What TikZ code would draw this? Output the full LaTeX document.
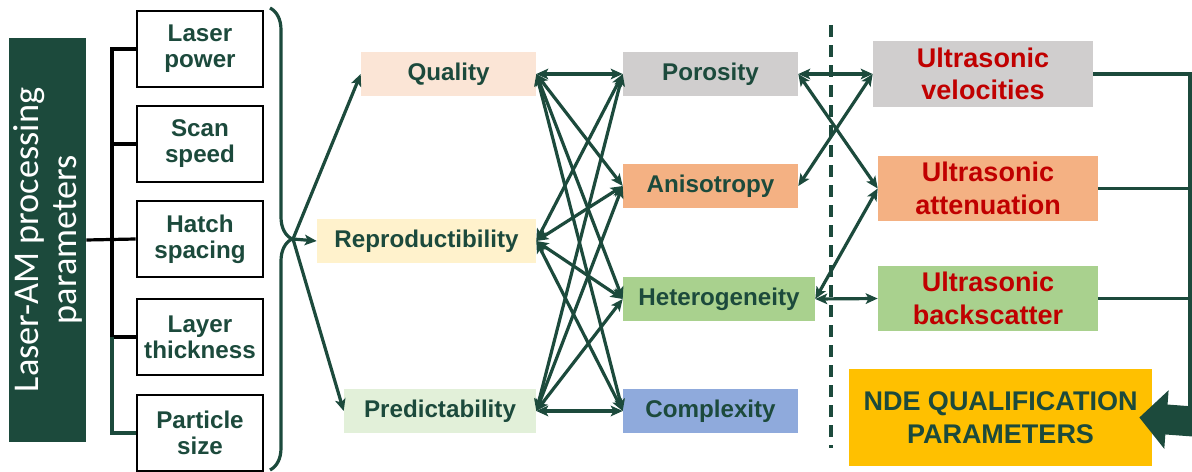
\documentclass[tikz,border=0pt]{standalone}
\usepackage{fontspec}
\setmainfont{Liberation Sans}
\newfontfamily\calibri{Carlito}
\usetikzlibrary{arrows.meta,decorations.pathreplacing}
\definecolor{dkgreen}{HTML}{1C4A3C}
\definecolor{utred}{HTML}{C00000}
\definecolor{qualfill}{HTML}{FBE5D6}
\definecolor{reprofill}{HTML}{FFF2CC}
\definecolor{predfill}{HTML}{E2F0D9}
\definecolor{greyfill}{HTML}{D0CECE}
\definecolor{orangefill}{HTML}{F4B183}
\definecolor{greenfill}{HTML}{A9D18E}
\definecolor{bluefill}{HTML}{8FAADC}
\definecolor{goldfill}{HTML}{FFC000}
\begin{document}
\begin{tikzpicture}[x=0.025cm,y=-0.025cm]
	\tikzset{procbox/.style={fill=dkgreen, text=white, align=center, rotate=90, minimum width=10.1cm, minimum height=1.925cm, inner sep=1pt, font=\calibri\fontsize{25.8}{27}\selectfont},
		parbox/.style={draw=black, line width=0.065cm, fill=white, text=dkgreen, align=center, minimum width=3.15cm, minimum height=1.9cm, inner sep=1pt, font=\bfseries\fontsize{17.2}{18.5}\selectfont},
		cat/.style={text=dkgreen, minimum height=1.1cm, inner sep=1pt, font=\bfseries\fontsize{17.2}{19}\selectfont},
		ut/.style={text=utred, align=center, minimum width=5.5cm, minimum height=1.63cm, inner sep=1pt, font=\bfseries\fontsize{19.2}{23}\selectfont},
		bus/.style={black, line width=0.08cm},
		feedline/.style={dkgreen, line width=0.08cm, -{Stealth[length=8.5pt,width=7.5pt,inset=2pt]}},
		link/.style={dkgreen, line width=0.08cm, {Stealth[length=8.5pt,width=7.5pt,inset=2pt]}-{Stealth[length=8.5pt,width=7.5pt,inset=2pt]}},
		rail/.style={dkgreen, line width=0.08cm}}
	\useasboundingbox (0,0) rectangle (1192,472);
	\node[procbox] (proc) at (47.5,240) {Laser-AM processing\\parameters};
	\node[parbox] (laser) at (200,49)  {Laser\\power};
	\node[parbox] (speed) at (200,144) {Scan\\speed};
	\node[parbox] (hatch) at (200,239) {Hatch\\spacing};
	\node[parbox] (layer) at (200,337) {Layer\\thickness};
	\node[parbox] (size)  at (200,433) {Particle\\size};
	\coordinate (bus) at (112,240);
	\draw[bus] (proc.south) -- (hatch.west);
	\draw[bus] (laser.west) -| (bus);
	\draw[bus] (speed.west) -- (speed.west -| bus);
	\draw[bus] (layer.west) -| (bus);
	\draw[bus,dkgreen] (size.west) -| (layer.west -| bus);
	\draw[dkgreen, line width=0.08cm, decorate, decoration={brace, amplitude=0.55cm}] (270,8) -- (270,470);
	\coordinate (fork) at (293,239);
	\node[cat, fill=qualfill, minimum width=4.375cm]  (qual)  at (448.5,74) {Quality};
	\node[cat, fill=reprofill, minimum width=5.475cm] (repro) at (426.5,241) {Reproductibility};
	\node[cat, fill=predfill, minimum width=4.8cm]    (pred)  at (440,411) {Predictability};
	\draw[feedline] (fork) -- (qual.west);
	\draw[feedline] (fork) -- (repro.west);
	\draw[feedline] (fork) -- (pred.west);
	\node[cat, fill=greyfill, minimum width=4.375cm]   (poro)   at (710.5,74) {Porosity};
	\node[cat, fill=orangefill, minimum width=4.375cm] (aniso)  at (710.5,186) {Anisotropy};
	\node[cat, fill=greenfill, minimum width=4.8cm]    (hetero) at (719,299) {Heterogeneity};
	\node[cat, fill=bluefill, minimum width=4.375cm]   (compl)  at (710.5,411) {Complexity};
	\foreach \a in {qual,repro,pred}
		\foreach \b in {poro,aniso,hetero,compl}
			\draw[link] (\a.east) -- (\b.west);
	\draw[dkgreen, line width=0.08cm, dash pattern=on 0.3cm off 0.2cm] (831,25) -- (831,448);
	\node[ut, fill=greyfill]   (uvel)  at (983,74)    {Ultrasonic\\velocities};
	\node[ut, fill=orangefill] (uatt)  at (988,188.5) {Ultrasonic\\attenuation};
	\node[ut, fill=greenfill]  (uback) at (988,298.5) {Ultrasonic\\backscatter};
	\foreach \a/\b in {poro/uvel,poro/uatt,aniso/uvel,hetero/uatt,hetero/uback}
		\draw[link] (\a.east) -- (\b.west);
	\node[fill=goldfill, text=dkgreen, align=center, minimum width=7.575cm, minimum height=2.425cm, inner sep=1pt, font=\bfseries\fontsize{19.2}{23.5}\selectfont] (nde) at (1000.5,417.5) {NDE QUALIFICATION\\PARAMETERS};
	\coordinate (rail) at (1190,408);
	\draw[rail] (uvel.east) -| (rail);
	\draw[rail] (uatt.east) -- (uatt.east -| rail);
	\draw[rail] (uback.east) -- (uback.east -| rail);
	\coordinate (feed) at (1200,422);
	\draw[dkgreen, line width=0.75cm, -{Triangle[length=0.68cm,width=1.43cm]}] (feed) -- ([xshift=-0.325cm]nde.east);
\end{tikzpicture}
\end{document}
